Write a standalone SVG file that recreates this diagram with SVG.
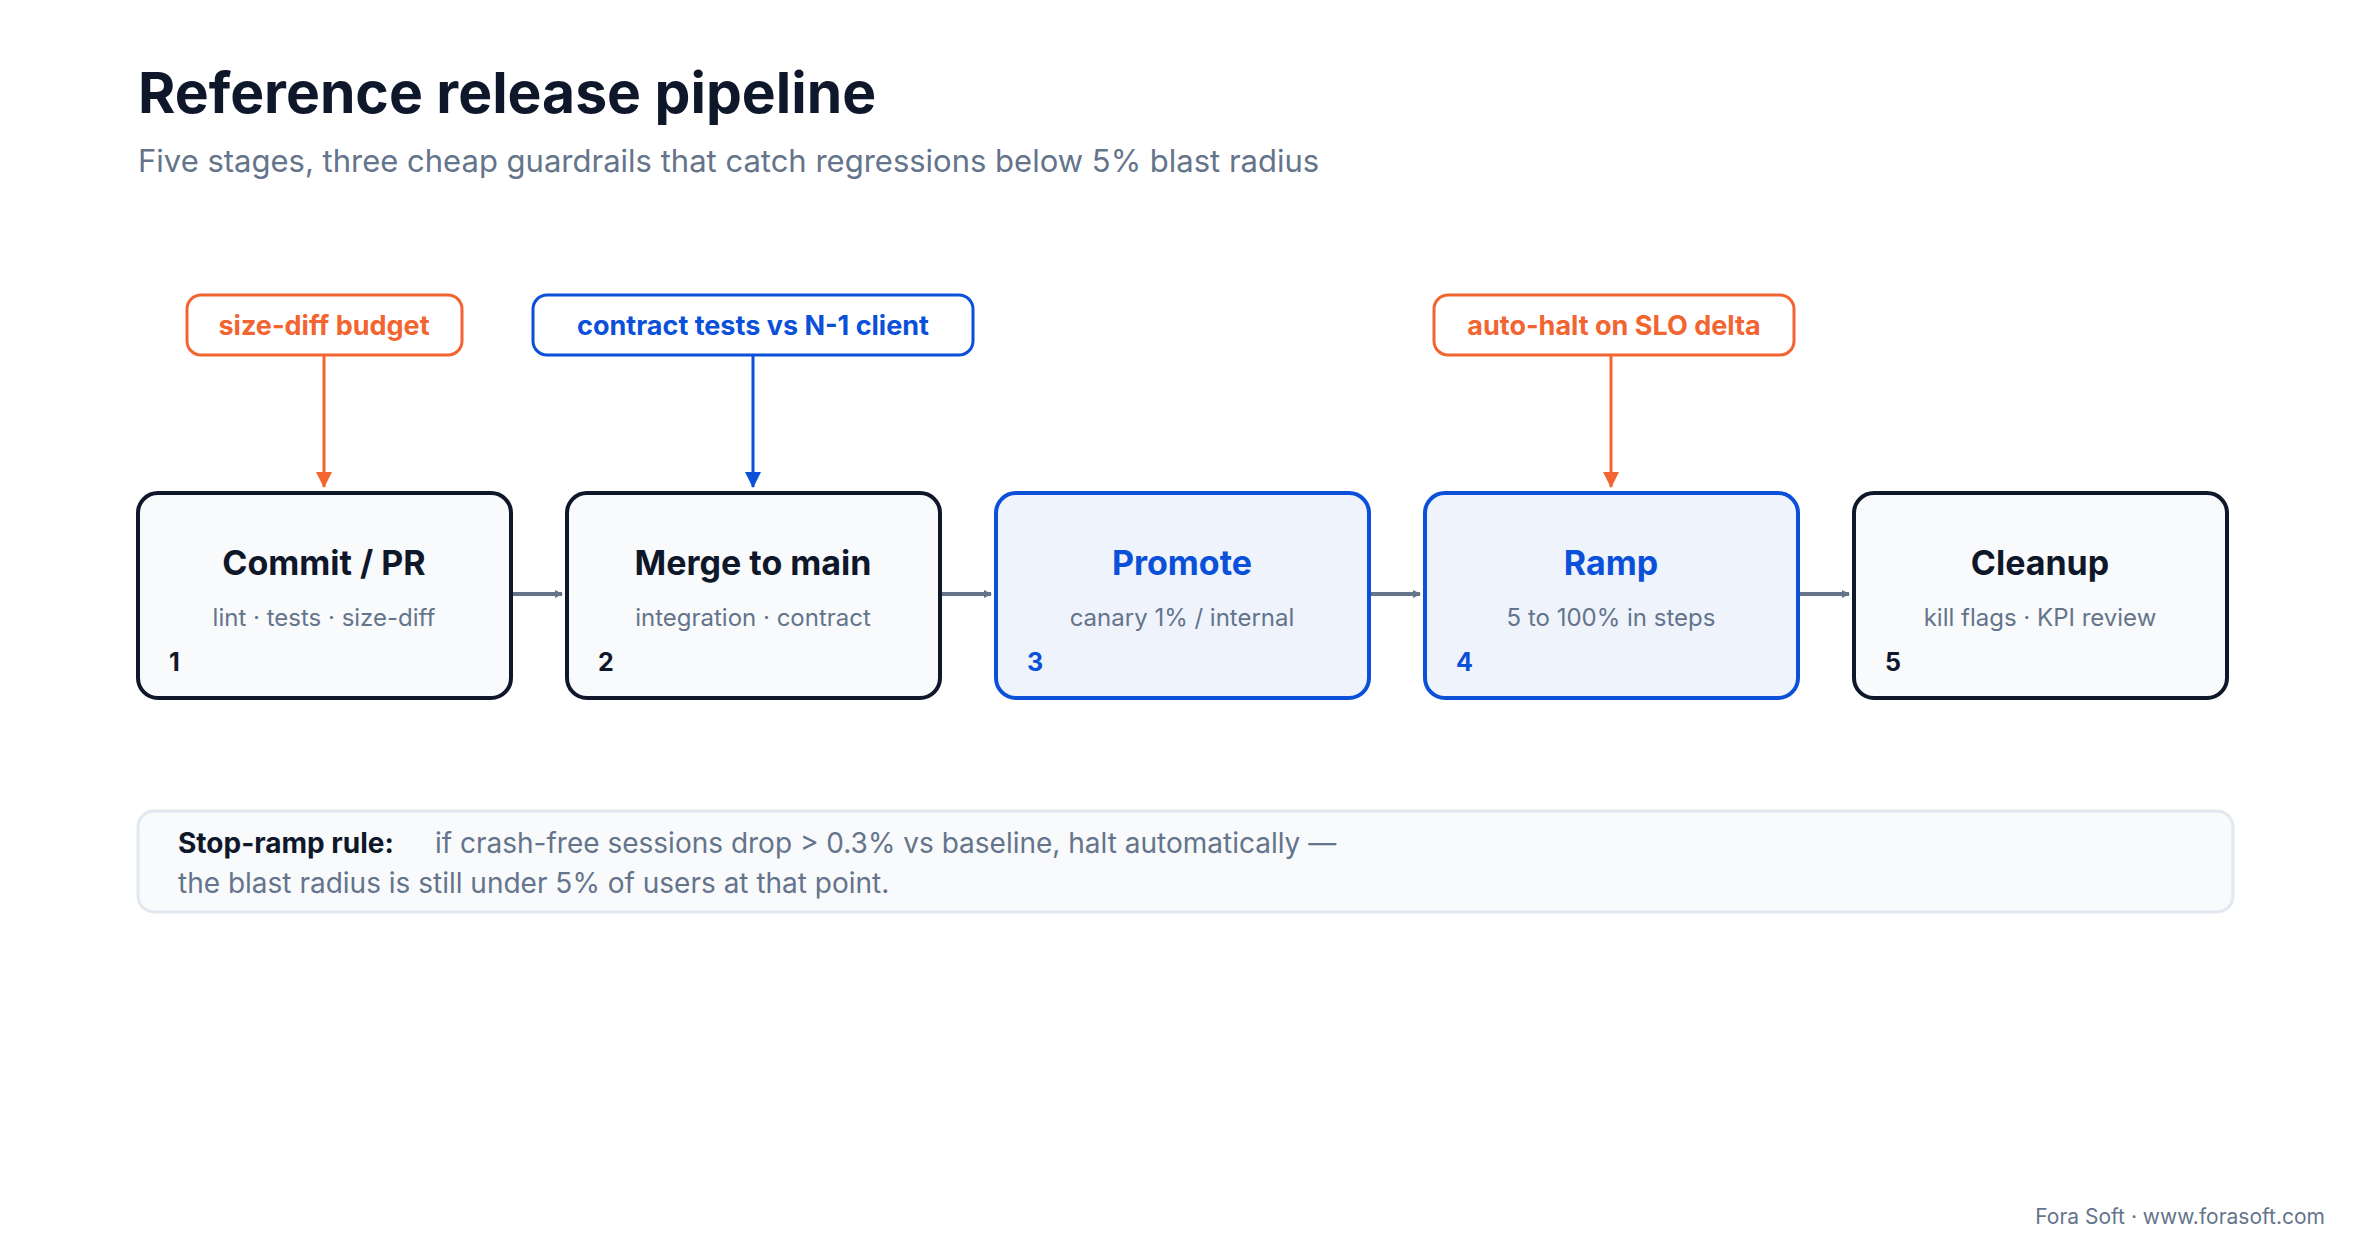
<svg xmlns="http://www.w3.org/2000/svg" width="2360" height="1259" viewBox="0 0 2360 1259">
<style>
text{font-family:Inter,"Liberation Sans",sans-serif}
.stage rect{fill:#f8fafc;stroke:#0f172a;stroke-width:4}
.stage.hl rect{fill:#eef3fc;stroke:#0b50d8}
.t{font-size:34px;font-weight:700;fill:#0f172a;text-anchor:middle}
.hl .t,.hl .n{fill:#0b50d8}
.s{font-size:24px;fill:#64748b;text-anchor:middle}
.n{font-size:25px;font-weight:700;fill:#0f172a}
.g rect{fill:#fff;stroke-width:3}
.g text{font-size:27px;font-weight:700;text-anchor:middle}
.or rect{stroke:#f26430}.or text{fill:#f26430}
.bl rect{stroke:#0b50d8}.bl text{fill:#0b50d8}
</style>
<defs>
<marker id="ag" markerWidth="8" markerHeight="8" refX="7" refY="4" orient="auto" markerUnits="userSpaceOnUse" viewBox="0 0 8 8"><path d="M0,0L8,4L0,8z" fill="#64748b"/></marker>
<marker id="ao" markerWidth="16" markerHeight="16" refX="15" refY="8" orient="auto" markerUnits="userSpaceOnUse"><path d="M0,0L16,8L0,16z" fill="#f26430"/></marker>
<marker id="ab" markerWidth="16" markerHeight="16" refX="15" refY="8" orient="auto" markerUnits="userSpaceOnUse"><path d="M0,0L16,8L0,16z" fill="#0b50d8"/></marker>
</defs>
<rect width="2360" height="1259" fill="#fff"/>
<text x="138" y="113" font-size="57" font-weight="700" fill="#0f172a">Reference release pipeline</text>
<text x="138" y="172" font-size="31" fill="#64748b">Five stages, three cheap guardrails that catch regressions below 5% blast radius</text>

<g id="connectors">
<g stroke="#64748b" stroke-width="4" fill="none" marker-end="url(#ag)">
<path d="M512 594H562"/><path d="M941 594H991"/><path d="M1370 594H1420"/><path d="M1799 594H1849"/>
</g>
<path d="M324 356V487" stroke="#f26430" stroke-width="3" marker-end="url(#ao)"/>
<path d="M753 356V487" stroke="#0b50d8" stroke-width="3" marker-end="url(#ab)"/>
<path d="M1611 356V487" stroke="#f26430" stroke-width="3" marker-end="url(#ao)"/>
</g>

<g id="g1" class="g or"><rect x="187" y="295" width="275" height="60" rx="14"/><text x="324" y="335">size-diff budget</text></g>
<g id="g2" class="g bl"><rect x="533" y="295" width="440" height="60" rx="14"/><text x="753" y="335">contract tests vs N-1 client</text></g>
<g id="g3" class="g or"><rect x="1434" y="295" width="360" height="60" rx="14"/><text x="1614" y="335">auto-halt on SLO delta</text></g>

<g id="s1" class="stage"><rect x="138" y="493" width="373" height="205" rx="20"/><text class="t" x="324" y="575">Commit / PR</text><text class="s" x="324" y="626">lint · tests · size-diff</text><text class="n" x="169" y="671">1</text></g>
<g id="s2" class="stage"><rect x="567" y="493" width="373" height="205" rx="20"/><text class="t" x="753" y="575">Merge to main</text><text class="s" x="753" y="626">integration · contract</text><text class="n" x="598" y="671">2</text></g>
<g id="s3" class="stage hl"><rect x="996" y="493" width="373" height="205" rx="20"/><text class="t" x="1182" y="575">Promote</text><text class="s" x="1182" y="626">canary 1% / internal</text><text class="n" x="1027" y="671">3</text></g>
<g id="s4" class="stage hl"><rect x="1425" y="493" width="373" height="205" rx="20"/><text class="t" x="1611" y="575">Ramp</text><text class="s" x="1611" y="626">5 to 100% in steps</text><text class="n" x="1456" y="671">4</text></g>
<g id="s5" class="stage"><rect x="1854" y="493" width="373" height="205" rx="20"/><text class="t" x="2040" y="575">Cleanup</text><text class="s" x="2040" y="626">kill flags · KPI review</text><text class="n" x="1885" y="671">5</text></g>

<g id="rule">
<rect x="138" y="811" width="2095" height="101" rx="16" fill="#f8fafc" stroke="#e2e8f0" stroke-width="3"/>
<text x="178" y="853" font-size="28" font-weight="700" fill="#0f172a">Stop-ramp rule:</text>
<text x="435" y="853" font-size="28" fill="#64748b">if crash-free sessions drop &gt; 0.3% vs baseline, halt automatically —</text>
<text x="178" y="893" font-size="28" fill="#64748b">the blast radius is still under 5% of users at that point.</text>
</g>
<text x="2325" y="1224" font-size="21" fill="#64748b" text-anchor="end">Fora Soft · www.forasoft.com</text>
</svg>
